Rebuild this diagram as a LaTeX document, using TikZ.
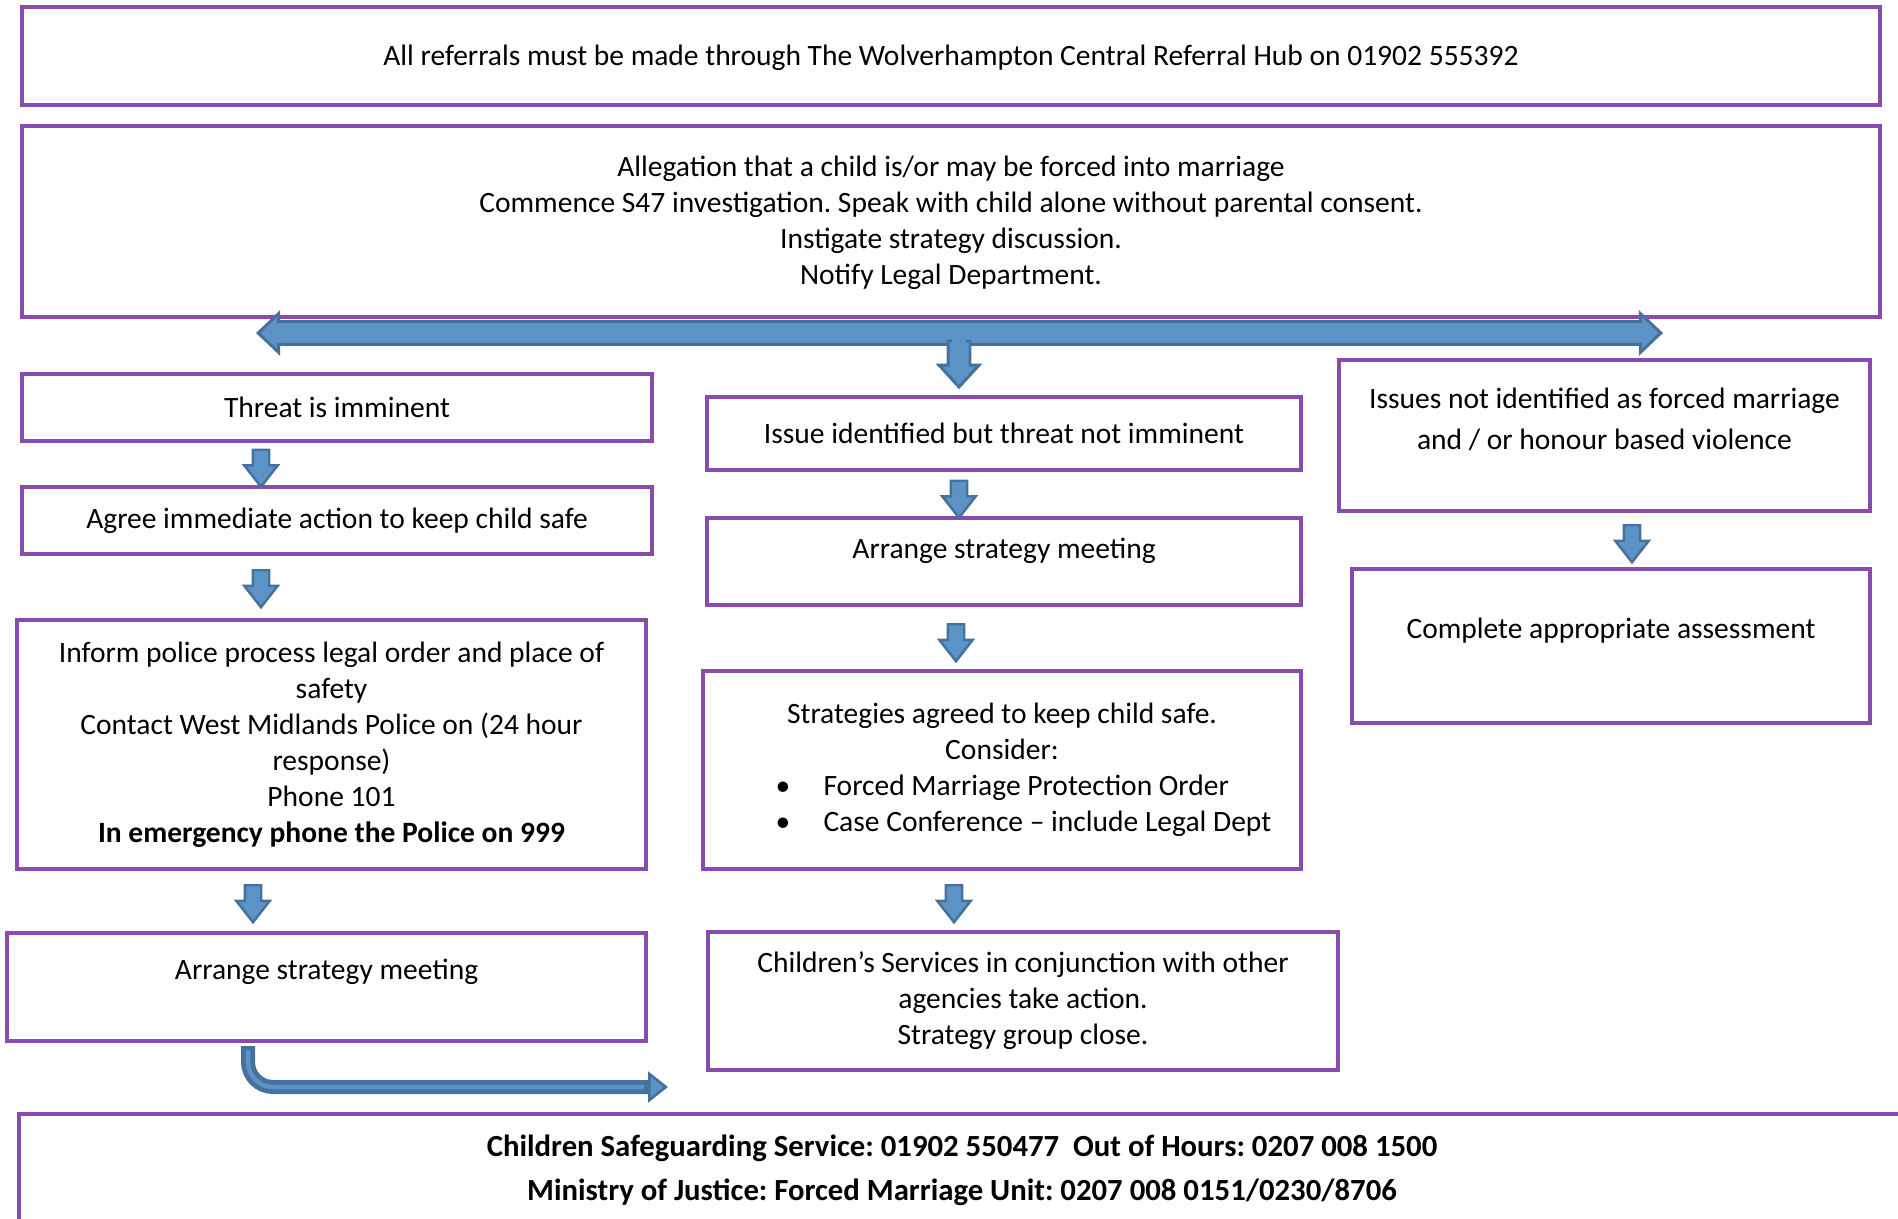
\documentclass[tikz,border=0pt]{standalone}
\usepackage{fontspec}
\setmainfont{Carlito}
\usetikzlibrary{arrows.meta,shapes.arrows,calc}
\definecolor{frame}{HTML}{8A4BAF}
\definecolor{arrowfill}{HTML}{5B93C6}
\definecolor{arrowline}{HTML}{46719C}
\tikzset{
  font=\fontsize{16.8}{20.5}\selectfont,
  box/.style={draw=frame, line width=2.5pt, fill=white, align=center, inner sep=4pt},
  downarrow/.style={single arrow, rotate=-90, draw=arrowline, fill=arrowfill,
    line width=1.4pt, inner xsep=0pt, inner ysep=0.14cm, text height=0pt, text depth=0pt,
    minimum width=0.62cm, minimum height=0.74cm,
    single arrow head extend=0.17cm, single arrow tip angle=76},
  bigarrow/.style={double arrow, draw=arrowline, fill=arrowfill, line width=1.7pt,
    inner xsep=0pt, inner ysep=0.2cm, text height=0pt, text depth=0pt,
    minimum width=0.72cm, double arrow head extend=0.16cm, double arrow tip angle=87},
  stemarrow/.style={downarrow, inner ysep=0.19cm, minimum width=0.74cm,
    single arrow head extend=0.18cm, single arrow tip angle=85, line width=1.7pt},
  bendflow/.style={line width=0.28cm, draw=arrowline, rounded corners=0.5cm}
}
\frenchspacing

\begin{document}
\begin{tikzpicture}[x=0.02cm,y=-0.02cm]
  \useasboundingbox (0,0) rectangle (1898,1219);

  % top boxes
  \node[box, minimum width=37.16cm, minimum height=1.96cm, text depth=0.03cm] (hub) at (951,56)
    {All referrals must be made through The Wolverhampton Central Referral Hub on 01902 555392};
  \node[box, minimum width=37.16cm, minimum height=3.82cm, text depth=0.05cm] (alleg) at (951,221.5)
    {Allegation that a child is/or may be forced into marriage\\
     Commence S47 investigation. Speak with child alone without parental consent.\\
     Instigate strategy discussion.\\
     Notify Legal Department.};

  % left column
  \node[box, minimum width=12.6cm, minimum height=1.34cm] (threat) at (337,407.5) {Threat is imminent};
  \node[box, minimum width=12.6cm, minimum height=1.34cm] (agree) at (337,520.5)
    {Agree immediate action to keep child safe};
  \node[box, minimum width=12.58cm, minimum height=4.98cm] (police) at (331.5,744.5)
    {Inform police process legal order and place of\\
     safety\\
     Contact West Midlands Police on (24 hour\\
     response)\\
     Phone 101\\
     \textbf{In emergency phone the Police on 999}};
  \node[box, minimum width=12.78cm, minimum height=2.16cm, text depth=0.71cm] (armL) at (326.5,987)
    {Arrange strategy meeting};

  % middle column
  \node[box, minimum width=11.88cm, minimum height=1.46cm] (issue) at (1004,433.5)
    {Issue identified but threat not imminent};
  \node[box, minimum width=11.88cm, minimum height=1.74cm, text depth=0.51cm] (armM) at (1004,561.5)
    {Arrange strategy meeting};
  \node[box, minimum width=11.96cm, minimum height=3.96cm] (strat) at (1002,770)
    {Strategies agreed to keep child safe.\\
     Consider:\\
     \hspace*{0.84cm}\makebox[9.9cm][l]{\makebox[0.96cm][l]{•}Forced Marriage Protection Order}\\
     \hspace*{0.84cm}\makebox[9.9cm][l]{\makebox[0.96cm][l]{•}Case Conference – include Legal Dept}};
  \node[box, minimum width=12.6cm, minimum height=2.76cm] (kids) at (1023,1001)
    {Children’s Services in conjunction with other\\
     agencies take action.\\
     Strategy group close.};

  % right column
  \node[box, minimum width=10.62cm, minimum height=3.02cm, text depth=0.67cm,
        font=\fontsize{16.8}{23.3}\selectfont] (notfm) at (1604.5,435.5)
    {Issues not identified as forced marriage\\
     and / or honour based violence};
  \node[box, minimum width=10.36cm, minimum height=3.08cm, text depth=0.71cm] (assess) at (1611,646)
    {Complete appropriate assessment};

  % contacts
  \node[box, minimum width=37.72cm, minimum height=2.24cm,
        font=\fontsize{17.5}{25}\selectfont\bfseries] (contacts) at (962,1170)
    {Children Safeguarding Service: 01902 550477\ \ Out of Hours: 0207 008 1500\\
     Ministry of Justice: Forced Marriage Unit: 0207 008 0151/0230/8706};

  % block arrows
  \node[bigarrow, minimum height=28.06cm] (split) at (959.5,333) {};
  \node[stemarrow, minimum height=0.92cm] (stem) at (959,358) {};
  \fill[arrowfill] (952,328) rectangle (966,347);

  \node[downarrow] (a1) at (261,463) {};
  \node[downarrow] (a2) at (261,583.5) {};
  \node[downarrow] (a3) at (253,898.5) {};
  \node[downarrow] (a4) at (959,494) {};
  \node[downarrow] (a5) at (956,637.5) {};
  \node[downarrow] (a6) at (954,898.5) {};
  \node[downarrow] (a7) at (1632,538.5) {};

  \coordinate (bendS) at (248,1046);
  \coordinate (bendE) at (668,1087);
  \draw[bendflow, -{Triangle[length=0.4cm,width=0.62cm,line width=1.5pt,fill=arrowfill]}]
    (bendS) |- (bendE);
  \draw[line width=0.09cm, arrowfill, rounded corners=0.5cm, shorten <=0.08cm]
    (bendS) |- ($(bendE)+(-24,0)$);
\end{tikzpicture}
\end{document}
